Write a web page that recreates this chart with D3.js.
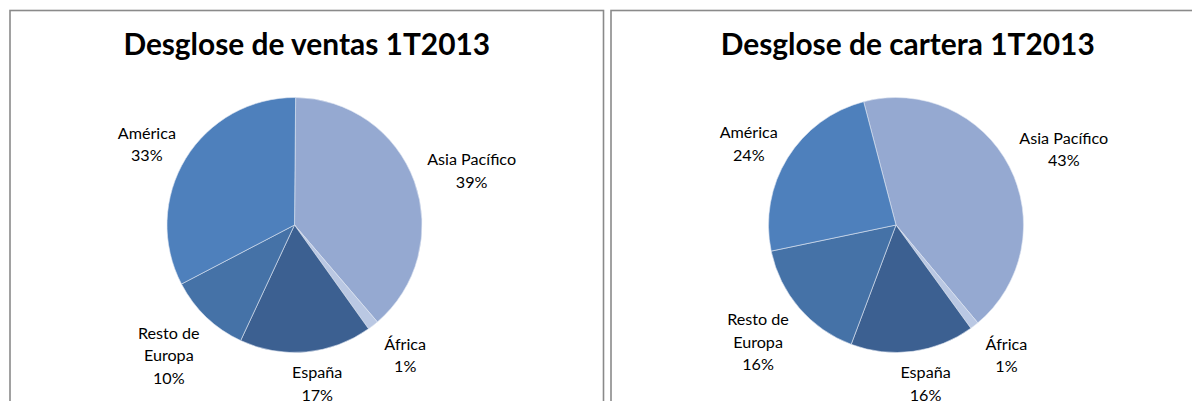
<!DOCTYPE html>
<html>
<head>
<meta charset="utf-8">
<script src="https://cdnjs.cloudflare.com/ajax/libs/d3/7.8.5/d3.min.js"></script>
<style>
  html, body { margin: 0; padding: 0; background: #fff; }
  svg { display: block; }
</style>
</head>
<body>
<svg id="chart" width="1192" height="401"></svg>
<script>
// ---- data ----
const categories = ["Asia Pacífico", "África", "España", "Resto de Europa", "América"];
const ventas = [38.6, 1.4, 16.8, 10.4, 32.8];
const cartera = [43.0, 1.1, 15.7, 16.0, 24.2];
const titles = ["Desglose de ventas 1T2013", "Desglose de cartera 1T2013"];

// ---- styles ----
const colors = ["#95A9D1", "#BAC8E3", "#3C6091", "#4572A7", "#4E80BC"];
const FONT = "Lato, 'Open Sans', 'Liberation Sans', sans-serif";

const svg = d3.select("#chart");

const panels = [
  { x: 10, y: 10.5, w: 593.5, title: titles[0], values: ventas, cx: 294.5, cy: 225, start: 0.5 },
  { x: 611, y: 10.5, w: 593.5, title: titles[1], values: cartera, cx: 896, cy: 225, start: -14.7 }
];
const R = 127.5;

function fitSize(text, weight, targetW, base) {
  const t = svg.append("text").attr("font-family", FONT).attr("font-weight", weight)
    .attr("font-size", base).text(text);
  const w = t.node().getComputedTextLength();
  t.remove();
  return base * targetW / w;
}
const titleSize = fitSize(titles[0], 700, 367, 28);
const labelSize = fitSize("Asia Pacífico", 400, 89, 15);

const color = d3.scaleOrdinal().domain(categories).range(colors);
const pct = d3.format(".0%");

panels.forEach(p => {
  const g = svg.append("g");
  g.append("rect")
    .attr("x", p.x).attr("y", p.y)
    .attr("width", p.w).attr("height", 430)
    .attr("fill", "#fff")
    .attr("stroke", "#8a8a8a")
    .attr("stroke-width", 1.6);

  g.append("text")
    .attr("x", p.x + p.w / 2)
    .attr("y", 55)
    .attr("text-anchor", "middle")
    .attr("font-family", FONT)
    .attr("font-weight", 700)
    .attr("font-size", titleSize)
    .attr("fill", "#000")
    .text(p.title);

  const data = categories.map((c, i) => ({ cat: c, value: p.values[i] }));
  const total = d3.sum(data, d => d.value);
  const a0 = p.start * Math.PI / 180;
  const pie = d3.pie().sort(null).value(d => d.value)
    .startAngle(a0).endAngle(a0 + 2 * Math.PI);
  const arcs = pie(data);
  const arc = d3.arc().innerRadius(0).outerRadius(R);

  const pg = g.append("g").attr("transform", `translate(${p.cx},${p.cy})`);
  pg.selectAll("path").data(arcs).join("path")
    .attr("d", arc)
    .attr("fill", d => color(d.data.cat))
    .attr("stroke", "#dfe6f1")
    .attr("stroke-width", 0.6);

  arcs.forEach(a => {
    const name = a.data.cat;
    let lines;
    if (name.length > 13) {
      const words = name.split(" ");
      lines = [];
      let cur = "";
      words.forEach(w => {
        const t = cur ? cur + " " + w : w;
        if (t.length > 9 && cur) { lines.push(cur); cur = w; } else cur = t;
      });
      if (cur) lines.push(cur);
    } else lines = [name];
    lines.push(pct(Math.round(a.data.value / total * 100) / 100));

    const lh = 22.5;
    const t = pg.append("text")
      .attr("text-anchor", "middle")
      .attr("font-family", FONT)
      .attr("font-size", labelSize)
      .attr("fill", "#000");
    lines.forEach((l, i) => {
      t.append("tspan").attr("x", 0).attr("dy", i === 0 ? 0 : lh).text(l);
    });
    const bb = t.node().getBBox();
    const mid = (a.startAngle + a.endAngle) / 2;
    const s = Math.sin(mid), c = Math.cos(mid);
    const dist = R + 10 + Math.abs(s) * bb.width / 2 + Math.abs(c) * bb.height / 2;
    // best-fit nudges (labels sit slightly lower on top, slightly right on bottom-right)
    const nx = (c < 0 && s > 0) ? 8 : (c > 0 && s > 0 ? 2 : 0);
    const ny = c > 0 ? 9 : -2;
    const lx = s * dist + nx, ly = -c * dist + ny;
    const bcx = bb.x + bb.width / 2, bcy = bb.y + bb.height / 2;
    t.attr("transform", `translate(${lx - bcx},${ly - bcy})`);
  });
});
</script>
</body>
</html>
